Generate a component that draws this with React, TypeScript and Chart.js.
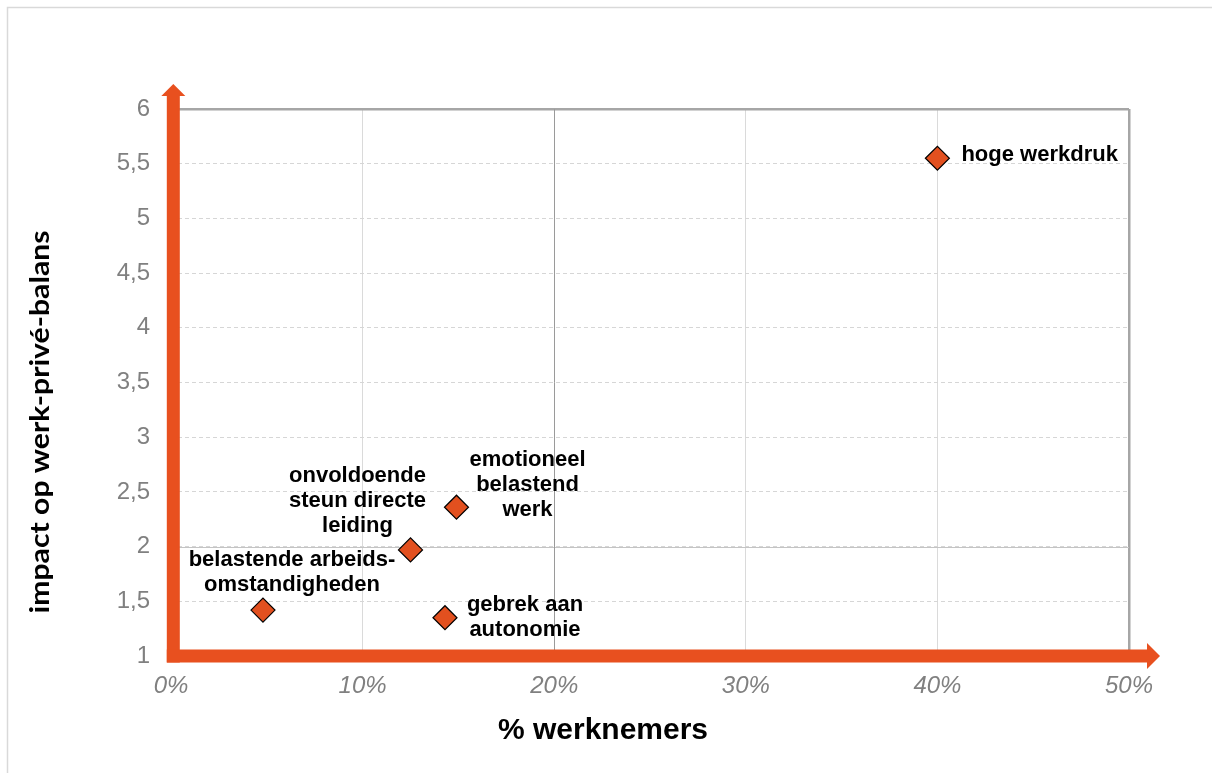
import { useEffect, useRef } from 'react';
import { Chart, registerables } from 'chart.js';

Chart.register(...registerables);

// ---- data ----
const categories = [
  'hoge werkdruk',
  'emotioneel belastend werk',
  'onvoldoende steun directe leiding',
  'belastende arbeidsomstandigheden',
  'gebrek aan autonomie',
];
const pctWerknemers = [40.0, 14.9, 12.5, 4.8, 14.3];
const impactBalans = [5.55, 2.36, 1.97, 1.42, 1.35];
const labelLines = [
  ['hoge werkdruk'],
  ['emotioneel', 'belastend', 'werk'],
  ['onvoldoende', 'steun directe', 'leiding'],
  ['belastende arbeids-', 'omstandigheden'],
  ['gebrek aan', 'autonomie'],
];
const xTitle = '% werknemers';
const yTitle = 'impact op werk-privé-balans';
const xMin = 0, xMax = 50, xStep = 10;
const yMin = 1, yMax = 6, yStep = 0.5;
const xCross = 20;
const yCross = 2;

// ---- style ----
const ORANGE = '#e8501f';
const MARKER = '#e2501f';
const LABEL_FONT = 'bold 22px "Liberation Sans", Arial, sans-serif';
const LINE_H = 25;
const labelPlacement = [
  { dx: 24, dy: -3, align: 'left' },
  { dx: 71, dy: -47, align: 'center' },
  { dx: -53, dy: -74, align: 'center' },
  { dx: 29, dy: -50, align: 'center' },
  { dx: 80, dy: -13, align: 'center' },
];

const decorPlugin = {
  id: 'decor',
  beforeDraw(chart: any) {
    const { ctx, width, height } = chart;
    ctx.save();
    ctx.fillStyle = '#ffffff';
    ctx.fillRect(0, 0, width, height);
    ctx.strokeStyle = '#d9d9d9';
    ctx.lineWidth = 1.5;
    ctx.strokeRect(7.5, 7.5, width + 20, height + 20);
    ctx.restore();
  },
  beforeDatasetsDraw(chart: any) {
    const { ctx, chartArea } = chart;
    const xs = chart.scales.x;
    const ys = chart.scales.y;
    ctx.save();
    // quadrant cross lines
    ctx.strokeStyle = '#c4c4c4';
    ctx.lineWidth = 1;
    const yc = Math.round(ys.getPixelForValue(yCross)) + 0.5;
    ctx.beginPath();
    ctx.moveTo(chartArea.left, yc);
    ctx.lineTo(chartArea.right, yc);
    ctx.stroke();
    ctx.strokeStyle = '#9a9a9a';
    const xc = Math.round(xs.getPixelForValue(xCross)) + 0.5;
    ctx.beginPath();
    ctx.moveTo(xc, chartArea.top);
    ctx.lineTo(xc, chartArea.bottom);
    ctx.stroke();

    // orange axes with arrows
    ctx.fillStyle = ORANGE;
    const vx = xs.getPixelForValue(xMin) + 2.3;
    const hy = ys.getPixelForValue(yMin);
    const half = 6.5;
    // vertical shaft
    ctx.fillRect(vx - half, chartArea.top - 13, half * 2, hy + half - (chartArea.top - 13));
    ctx.beginPath();
    ctx.moveTo(vx - 12, chartArea.top - 13);
    ctx.lineTo(vx + 12, chartArea.top - 13);
    ctx.lineTo(vx, chartArea.top - 25);
    ctx.closePath();
    ctx.fill();
    // horizontal shaft
    const hEnd = chartArea.right + 18;
    ctx.fillRect(vx - half, hy - half, hEnd - (vx - half), half * 2);
    ctx.beginPath();
    ctx.moveTo(hEnd, hy - 13);
    ctx.lineTo(hEnd, hy + 13);
    ctx.lineTo(chartArea.right + 31, hy);
    ctx.closePath();
    ctx.fill();
    ctx.restore();
  },
  afterDatasetsDraw(chart: any) {
    const { ctx } = chart;
    const meta = chart.getDatasetMeta(0);
    ctx.save();
    ctx.font = LABEL_FONT;
    ctx.fillStyle = '#000000';
    ctx.textBaseline = 'middle';
    meta.data.forEach((pt: any, i: number) => {
      const p = labelPlacement[i];
      ctx.textAlign = p.align;
      labelLines[i].forEach((line, j) => {
        ctx.fillText(line, pt.x + p.dx, pt.y + p.dy + j * LINE_H);
      });
    });
    ctx.restore();
  },
  afterDraw(chart: any) {
    const { ctx, chartArea } = chart;
    ctx.save();
    ctx.fillStyle = '#000000';
    ctx.textAlign = 'center';
    ctx.textBaseline = 'middle';
    ctx.font = 'bold 30px "Liberation Sans", Arial, sans-serif';
    ctx.fillText(xTitle, 603, 731);
    // y title
    ctx.translate(41, 422);
    ctx.rotate(-Math.PI / 2);
    ctx.font = 'bold 26px "Lato", "DejaVu Sans", sans-serif';
    const w = ctx.measureText(yTitle).width;
    const target = 383;
    ctx.scale(target / w, 1);
    ctx.fillText(yTitle, 0, 0);
    ctx.restore();
    void chartArea;
  },
};

export default function App() {
  const ref = useRef<HTMLCanvasElement | null>(null);
  useEffect(() => {
    document.body.style.margin = '0';
    if (!ref.current) return;
    const chart = new Chart(ref.current, {
      type: 'scatter',
      data: {
        datasets: [
          {
            label: 'risicofactoren',
            data: pctWerknemers.map((x, i) => ({ x, y: impactBalans[i], name: categories[i] })),
            pointStyle: 'rectRot',
            pointRadius: 12,
            pointHoverRadius: 12,
            backgroundColor: MARKER,
            borderColor: '#000000',
            borderWidth: 1.2,
          },
        ],
      },
      options: {
        responsive: false,
        animation: false,
        devicePixelRatio: 1,
        layout: { padding: { left: 0, top: 109, right: 83, bottom: 0 } },
        plugins: { legend: { display: false }, tooltip: { enabled: false } },
        scales: {
          x: {
            type: 'linear',
            min: xMin,
            max: xMax,
            afterFit: (s: any) => {
              s.height = 117;
            },
            ticks: {
              stepSize: xStep,
              padding: 16,
              color: '#808080',
              font: { family: '"Liberation Sans", Arial, sans-serif', size: 24, style: 'italic' },
              callback: (v: any) => `${v}%`,
            },
            grid: {
              drawTicks: false,
              color: (c: any) => (c.tick && c.tick.value === xMax ? '#a6a6a6' : '#dadada'),
              lineWidth: (c: any) => (c.tick && c.tick.value === xMax ? 2.5 : 1),
            },
            border: { display: false },
          },
          y: {
            type: 'linear',
            min: yMin,
            max: yMax,
            afterFit: (s: any) => {
              s.width = 171;
            },
            ticks: {
              stepSize: yStep,
              padding: 21,
              color: '#808080',
              font: { family: '"Liberation Sans", Arial, sans-serif', size: 24 },
              callback: (v: any) => String(v).replace('.', ','),
            },
            grid: {
              drawTicks: false,
              color: (c: any) => (c.tick && c.tick.value === yMax ? '#a6a6a6' : '#d6d6d6'),
              lineWidth: (c: any) => (c.tick && c.tick.value === yMax ? 2.5 : 1),
            },
            border: {
              display: false,
              dash: (c: any) => (c.tick && c.tick.value === yMax ? [] : [4, 3]),
            },
          },
        },
      } as any,
      plugins: [decorPlugin as any],
    });
    return () => chart.destroy();
  }, []);
  return (
    <div style={{ width: 1212, height: 773, position: 'relative' }}>
      <canvas ref={ref} width={1212} height={773} style={{ display: 'block' }} />
    </div>
  );
}
